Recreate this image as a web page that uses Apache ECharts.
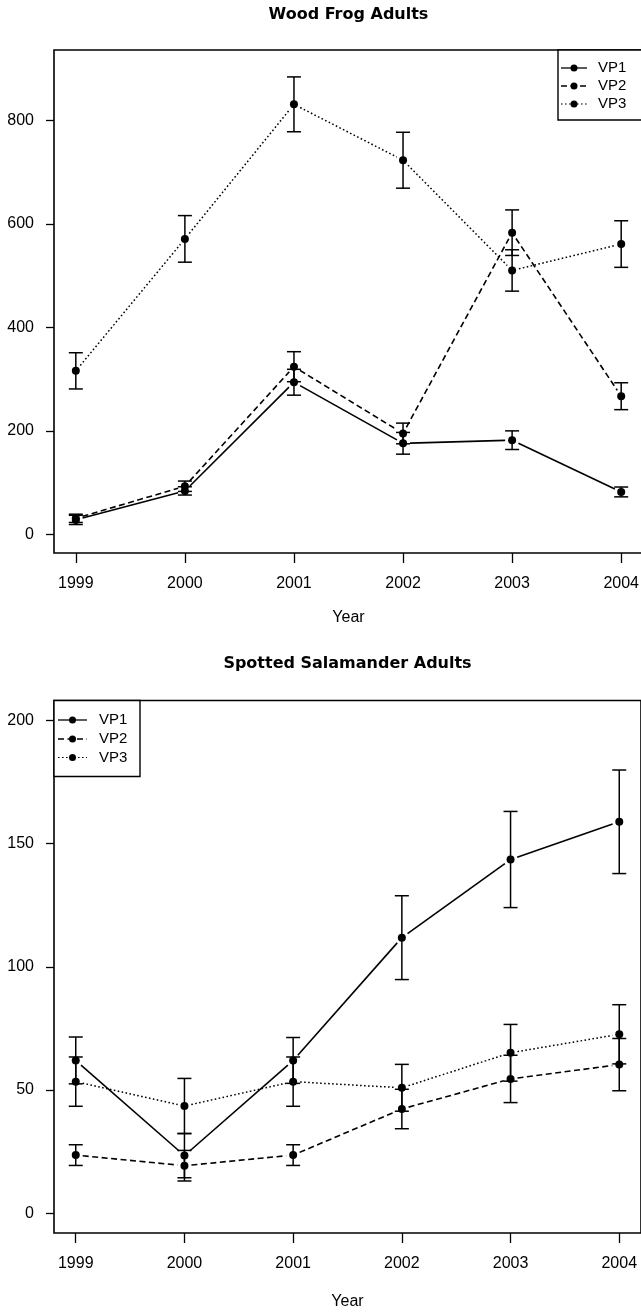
<!DOCTYPE html>
<html>
<head>
<meta charset="utf-8">
<style>
  html, body { margin: 0; padding: 0; background: #fff; }
  #chart { width: 641px; height: 1312px; }
</style>
<script src="https://cdn.jsdelivr.net/npm/echarts@6.0.0/dist/echarts.min.js"></script>
</head>
<body>
<div id="chart"></div>
<script>
// ---------------- DATA ----------------
const years = [1999, 2000, 2001, 2002, 2003, 2004];
const seriesNames = ['VP1', 'VP2', 'VP3'];

const frogTitle = 'Wood Frog Adults';
const frogTicks = [0, 200, 400, 600, 800];
const frogVP1 = [28, 84, 294, 176, 182, 82];
const frogVP1Err = [9, 8, 25, 21, 18, 9.5];
const frogVP2 = [31, 93, 324, 195, 583, 267];
const frogVP2Err = [8, 10, 29, 20, 44, 26];
const frogVP3 = [316, 571, 831, 723, 510, 561];
const frogVP3Err = [35, 45, 53, 54, 40, 45];

const salTitle = 'Spotted Salamander Adults';
const salTicks = [0, 50, 100, 150, 200];
const salVP1 = [62, 23.4, 62, 111.8, 143.5, 158.8];
const salVP1Err = [9.5, 9, 9.3, 17, 19.5, 21];
const salVP2 = [23.6, 19.3, 23.6, 42.3, 54.5, 60.3];
const salVP2Err = [4.2, 6.2, 4.2, 8, 9.6, 10.6];
const salVP3 = [53.4, 43.5, 53.4, 50.9, 65.1, 72.6];
const salVP3Err = [10, 11.2, 10, 9.5, 11.5, 12];

const xAxisTitle = 'Year';

// ---------------- STYLE ----------------
const INK = '#000';
const dashes = [null, [6, 3.5], [1.6, 2.4]];
const widths = [1.6, 1.6, 1.5];
const GAP = 7;
const CAP = 7;
const numFont = 'Liberation Sans';

function segmentRender(k) {
  return function (params, api) {
    const p1 = api.coord([api.value(0), api.value(1)]);
    const p2 = api.coord([api.value(2), api.value(3)]);
    const dx = p2[0] - p1[0], dy = p2[1] - p1[1];
    const L = Math.hypot(dx, dy);
    if (L <= 2 * GAP) return;
    const ux = dx / L, uy = dy / L;
    return {
      type: 'line',
      shape: { x1: p1[0] + ux * GAP, y1: p1[1] + uy * GAP, x2: p2[0] - ux * GAP, y2: p2[1] - uy * GAP },
      style: { stroke: INK, lineWidth: widths[k], lineDash: dashes[k], fill: null }
    };
  };
}

function errRender(params, api) {
  const x = api.value(0);
  const lo = api.coord([x, api.value(1)]);
  const hi = api.coord([x, api.value(2)]);
  const st = { stroke: INK, lineWidth: 1.5, fill: null };
  return {
    type: 'group',
    children: [
      { type: 'line', shape: { x1: lo[0], y1: lo[1], x2: hi[0], y2: hi[1] }, style: st },
      { type: 'line', shape: { x1: lo[0] - CAP, y1: lo[1], x2: lo[0] + CAP, y2: lo[1] }, style: st },
      { type: 'line', shape: { x1: hi[0] - CAP, y1: hi[1], x2: hi[0] + CAP, y2: hi[1] }, style: st }
    ]
  };
}

function buildSeries(gi, vals, errs) {
  const out = [];
  vals.forEach(function (v, k) {
    const segs = [];
    for (let i = 0; i < years.length - 1; i++) {
      segs.push([years[i], v[i], years[i + 1], v[i + 1]]);
    }
    out.push({
      type: 'custom', name: seriesNames[k] + '-line', xAxisIndex: gi, yAxisIndex: gi,
      renderItem: segmentRender(k), data: segs, silent: true,
      dimensions: ['x1', 'y1', 'x2', 'y2'], encode: { x: [0, 2], y: [1, 3] }, z: 2
    });
    out.push({
      type: 'custom', name: seriesNames[k] + '-err', xAxisIndex: gi, yAxisIndex: gi,
      renderItem: errRender, silent: true,
      data: years.map(function (y, i) { return [y, v[i] - errs[k][i], v[i] + errs[k][i]]; }),
      dimensions: ['x', 'lo', 'hi'], encode: { x: 0, y: [1, 2] }, z: 3
    });
    out.push({
      type: 'scatter', name: seriesNames[k], xAxisIndex: gi, yAxisIndex: gi,
      symbol: 'circle', symbolSize: 8, silent: true,
      itemStyle: { color: INK, opacity: 1 },
      data: years.map(function (y, i) { return [y, v[i]]; }), z: 4
    });
  });
  return out;
}

function xAxisCfg(gi, nameGap) {
  return {
    gridIndex: gi, type: 'value', min: years[0] - 0.2, max: years[years.length - 1] + 0.2,
    axisLine: { show: false, onZero: false },
    splitLine: { show: false },
    axisTick: { show: true, customValues: years, length: 10, inside: false, lineStyle: { color: INK, width: 1.3 } },
    axisLabel: { show: true, customValues: years, margin: 23, fontSize: 16, lineHeight: 16, fontFamily: numFont, color: INK,
      formatter: function (v) { return String(v); } },
    name: xAxisTitle, nameLocation: 'middle', nameGap: nameGap,
    nameTextStyle: { fontSize: 16, lineHeight: 16, fontFamily: numFont, color: INK }
  };
}

function yAxisCfg(gi, ticks, min, max) {
  return {
    gridIndex: gi, type: 'value', min: min, max: max,
    axisLine: { show: false, onZero: false },
    splitLine: { show: false },
    axisTick: { show: true, customValues: ticks, length: 8, inside: false, lineStyle: { color: INK, width: 1.3 } },
    axisLabel: { show: true, customValues: ticks, margin: 20, fontSize: 16, fontFamily: numFont, color: INK,
      formatter: function (v) { return String(v); } }
  };
}

function legendGraphics(bx, by, bw, bh, rowY, lineX1, lineX2, textX) {
  const els = [{
    type: 'rect', shape: { x: bx, y: by, width: bw, height: bh },
    style: { fill: '#fff', stroke: INK, lineWidth: 1.4 }, z: 10
  }];
  seriesNames.forEach(function (n, k) {
    const y = rowY[k];
    els.push({ type: 'line', shape: { x1: lineX1, y1: y, x2: lineX2, y2: y },
      style: { stroke: INK, lineWidth: widths[k] - 0.3, lineDash: dashes[k] }, z: 11 });
    els.push({ type: 'circle', shape: { cx: (lineX1 + lineX2) / 2, cy: y, r: 3.5 },
      style: { fill: INK }, z: 11 });
    els.push({ type: 'text', x: textX, y: y, z: 11,
      style: { text: n, fill: INK, font: '15px "Liberation Sans"', align: 'left', verticalAlign: 'middle' } });
  });
  return els;
}

const chart = echarts.init(document.getElementById('chart'), null, { renderer: 'canvas' });

const gridStyle = { show: true, borderColor: INK, borderWidth: 1.6, backgroundColor: 'transparent',
  containLabel: false, outerBoundsMode: 'none' };

const option = {
  backgroundColor: '#fff',
  animation: false,
  grid: [
    Object.assign({ left: 54, top: 50, width: 589, height: 503 }, gridStyle),
    Object.assign({ left: 54, top: 700.5, width: 587, height: 532.5 }, gridStyle)
  ],
  xAxis: [xAxisCfg(0, 57), xAxisCfg(1, 61)],
  yAxis: [
    yAxisCfg(0, frogTicks, -36, 936),
    yAxisCfg(1, salTicks, -8, 208)
  ],
  series: []
    .concat(buildSeries(0, [frogVP1, frogVP2, frogVP3], [frogVP1Err, frogVP2Err, frogVP3Err]))
    .concat(buildSeries(1, [salVP1, salVP2, salVP3], [salVP1Err, salVP2Err, salVP3Err])),
  graphic: [
    { type: 'text', x: 348.5, y: 15, style: { text: frogTitle, fill: INK, font: 'bold 16px "DejaVu Sans"', align: 'center', verticalAlign: 'middle' } },
    { type: 'text', x: 347.5, y: 664, style: { text: salTitle, fill: INK, font: 'bold 16px "DejaVu Sans"', align: 'center', verticalAlign: 'middle' } }
  ]
    .concat(legendGraphics(558, 50, 90, 70, [68, 86, 104], 561, 587, 598))
    .concat(legendGraphics(54, 700.5, 86, 76, [720, 739, 757.5], 58, 87, 99))
};

chart.setOption(option);
</script>
</body>
</html>
